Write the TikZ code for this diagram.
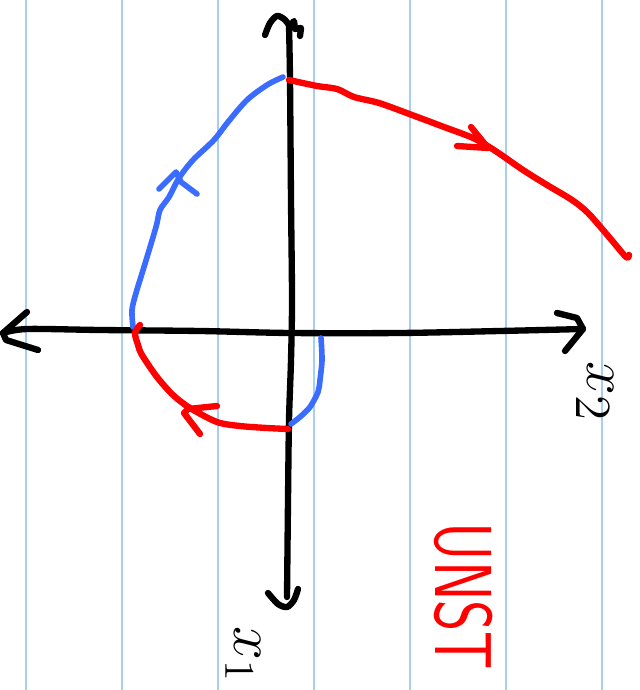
\documentclass[tikz,border=0pt]{standalone}
\usepackage{amsmath,amssymb}
\usepackage{tikz}
\usetikzlibrary{calc}
\definecolor{ruleblue}{RGB}{166,206,245}
\definecolor{penblue}{RGB}{58,108,255}
\definecolor{penred}{RGB}{255,0,0}

\begin{document}
\begin{tikzpicture}[x=0.1mm,y=-0.1mm,line cap=round,line join=round,
  axispen/.style={black,line width=1.8pt},
  bluepen/.style={penblue,line width=1.6pt},
  redpen/.style={penred,line width=1.8pt}]
  \useasboundingbox (0,0) rectangle (639,690);
  \clip (0,0) rectangle (639,690);
  \foreach \gx in {26,122,...,602}
    \draw[ruleblue,line width=0.6pt] (\gx,0)--(\gx,690);
  % axes
  \coordinate (W) at (3,333);
  \coordinate (E) at (583,329);
  \coordinate (N) at (289,25);
  \coordinate (S) at (287,597);
  \draw[axispen] plot[smooth] coordinates {(W) (27,329) (100,330) (200,331) (290,333) (400,333) (500,331) (E)};
  \draw[axispen] plot[smooth] coordinates {(N) (290,80) (291,200) (292,300) (291,360) (289,420) (288,500) (S)};
  \draw[axispen] (27,312)--(W)--(6,340)--(38,350);
  \draw[axispen] (557,313)--(577,318)--(E)--(565,351);
  \draw[axispen] plot[smooth] coordinates {(265,35) (270,23) (277,16) (284,19) (N)};
  \draw[axispen] (290,26)--(294,21)--(295,29)--(301,28)--(300,36);
  \draw[axispen] plot[smooth] coordinates {(268,593) (278,604) (287,607) (294,600) (298,589)};
  \node[rotate=-90,inner sep=0pt,font=\fontsize{19}{23}\selectfont] (lblx2) at (595,392) {$x_2$};
  \node[rotate=-90,inner sep=0pt,font=\fontsize{18}{22}\selectfont] (lblx1) at (243,655) {$x_1$};
  % trajectories
  \draw[bluepen] plot[smooth] coordinates {(133,327) (132,310) (136,293) (144,267) (156,227) (160,210) (169,197) (179,178) (193,160) (214,140) (228,122) (247,100) (267,85) (283,77)};
  \draw[bluepen] (159,189)--(176,172)--(181,182)--(197,194);
  \draw[redpen] plot[smooth] coordinates {(289,80) (317,86) (337,89) (354,97) (379,103) (412,115) (444,127) (473,138) (494,150) (523,170) (547,185) (572,200) (588,213) (609,237) (626,257) (629,255)};
  \draw[redpen] (471,127)--(488,148)--(457,146);
  \draw[redpen] plot[smooth] coordinates {(140,325) (135,333) (138,345) (142,355) (157,377) (173,395) (190,408) (217,422) (240,426) (267,428) (288,429)};
  \draw[redpen] (217,406)--(188,409)--(184,413)--(200,434);
  \draw[bluepen] plot[smooth] coordinates {(321,338) (322,360) (320,380) (318,392) (310,407) (300,417) (291,424)};
  \node[rotate=-90,xscale=0.74,anchor=west,inner sep=0pt,text=penred,font=\sffamily\fontsize{23}{27}\selectfont] (unst) at (464,522) {UNST};
\end{tikzpicture}
\end{document}
